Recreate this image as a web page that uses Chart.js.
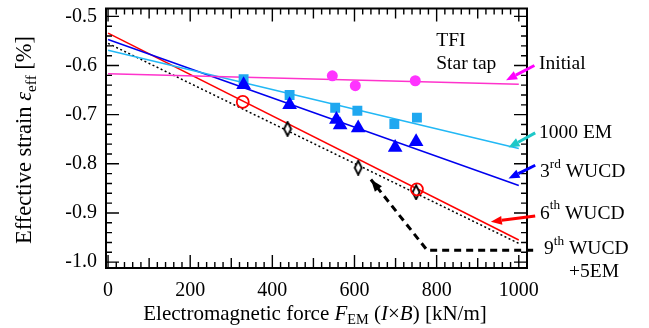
<!DOCTYPE html>
<html>
<head>
<meta charset="utf-8">
<script src="https://cdn.jsdelivr.net/npm/chart.js@4.4.0/dist/chart.umd.min.js"></script>
<style>
  html, body { margin: 0; padding: 0; background: #fff; }
  #wrap { width: 649px; height: 328px; }
</style>
</head>
<body>
<div id="wrap"><canvas id="chart" width="649" height="328"></canvas></div>
<script>
// values (force in kN/m, strain in %)
const forceInitial = [546, 602, 748];
const strainInitial = [-0.621, -0.641, -0.631];

const force1000EM = [330, 442, 553, 607, 697, 752];
const strain1000EM = [-0.628, -0.660, -0.686, -0.692, -0.719, -0.706];

const force3rd = [330, 442, 556, 565, 609, 699, 750];
const strain3rd = [-0.639, -0.680, -0.710, -0.721, -0.727, -0.767, -0.755];

const force6th = [328, 752];
const strain6th = [-0.674, -0.852];

const force9th = [437, 609, 750];
const strain9th = [-0.729, -0.808, -0.858];

// linear fits, drawn from 0 to 1000
const fitX = [0, 1000];
const fitInitial = [-0.617, -0.638];
const fit1000EM = [-0.569, -0.769];
const fit3rd = [-0.547, -0.844];
const fit6th = [-0.534, -0.955];
const fit9th = [-0.555, -0.962];

// dashed path to the 9th WUCD level
const dropX = [1035, 777, 640];
const dropY = [-0.976, -0.976, -0.832];

const xTicks = [0, 200, 400, 600, 800, 1000];
const yTicks = [-1.0, -0.9, -0.8, -0.7, -0.6, -0.5];

const FONT = '"Liberation Serif", "Times New Roman", serif';
Chart.defaults.font.family = FONT;
Chart.defaults.color = '#000';

function pts(xs, ys) {
    return xs.map((x, i) => ({ x: x, y: ys[i] }));
}

// narrow open diamond marker
function diamondMarker() {
    const c = document.createElement('canvas');
    c.width = 10; c.height = 16;
    const g = c.getContext('2d');
    g.beginPath();
    g.moveTo(5, 1); g.lineTo(8.5, 8); g.lineTo(5, 15); g.lineTo(1.5, 8); g.closePath();
    g.fillStyle = '#fff'; g.fill();
    g.lineWidth = 1.8; g.strokeStyle = '#000'; g.stroke();
    return c;
}

function richText(ctx, parts, x, y, size, align) {
    let w = 0;
    const items = parts.map(function(p) {
        const st = p[1] || '';
        const small = st.indexOf('sub') >= 0 || st.indexOf('sup') >= 0;
        const fs = small ? size * 0.68 : size;
        const font = (st.indexOf('i') === 0 ? 'italic ' : '') + fs + 'px ' + FONT;
        ctx.font = font;
        const mw = ctx.measureText(p[0]).width;
        w += mw;
        return { t: p[0], st: st, font: font, mw: mw };
    });
    let cx = align === 'center' ? x - w / 2 : x;
    items.forEach(function(it) {
        ctx.font = it.font;
        let dy = 0;
        if (it.st.indexOf('sub') >= 0) dy = size * 0.3;
        if (it.st.indexOf('sup') >= 0) dy = -size * 0.4;
        ctx.fillText(it.t, cx, y + dy);
        cx += it.mw;
    });
}

function arrow(ctx, x1, y1, x2, y2, color, lw, headLen, headW) {
    const a = Math.atan2(y2 - y1, x2 - x1);
    const bx = x2 - Math.cos(a) * headLen, by = y2 - Math.sin(a) * headLen;
    ctx.save();
    ctx.strokeStyle = color; ctx.fillStyle = color; ctx.lineWidth = lw;
    if (lw > 0) { ctx.beginPath(); ctx.moveTo(x1, y1); ctx.lineTo(bx, by); ctx.stroke(); }
    ctx.beginPath();
    ctx.moveTo(x2, y2);
    ctx.lineTo(bx + Math.sin(a) * headW / 2, by - Math.cos(a) * headW / 2);
    ctx.lineTo(bx - Math.sin(a) * headW / 2, by + Math.cos(a) * headW / 2);
    ctx.closePath(); ctx.fill();
    ctx.restore();
}

const decor = {
    id: 'decor',
    afterDraw(chart) {
        const ctx = chart.ctx, a = chart.chartArea;
        const xs = chart.scales.x, ys = chart.scales.y;
        ctx.save();
        // frame
        ctx.strokeStyle = '#000'; ctx.lineWidth = 2;
        ctx.strokeRect(a.left, a.top, a.right - a.left, a.bottom - a.top);
        // inward ticks on all sides
        ctx.lineWidth = 1.4;
        ctx.beginPath();
        for (let v = 0; v <= 1000; v += 20) {
            const px = xs.getPixelForValue(v);
            const len = v % 200 === 0 ? 13 : (v % 100 === 0 ? 10 : 6);
            ctx.moveTo(px, a.bottom); ctx.lineTo(px, a.bottom - len);
            ctx.moveTo(px, a.top); ctx.lineTo(px, a.top + len);
        }
        for (let k = 0; k <= 25; k++) {
            const v = -1.0 + k * 0.02;
            const py = ys.getPixelForValue(v);
            const len = k % 5 === 0 ? 13 : 6;
            ctx.moveTo(a.left, py); ctx.lineTo(a.left + len, py);
            ctx.moveTo(a.right, py); ctx.lineTo(a.right - len, py);
        }
        ctx.stroke();

        // arrowhead on the dashed path
        const n = dropX.length;
        arrow(ctx, xs.getPixelForValue(dropX[n - 2]), ys.getPixelForValue(dropY[n - 2]),
            xs.getPixelForValue(dropX[n - 1]), ys.getPixelForValue(dropY[n - 1]), '#000', 0, 12, 9);

        // label arrows at the right
        const X = v => xs.getPixelForValue(v), Y = v => ys.getPixelForValue(v);
        arrow(ctx, X(1038), Y(-0.600), X(969), Y(-0.630), '#f0f', 3, 11, 9);
        arrow(ctx, X(1040), Y(-0.737), X(975), Y(-0.767), '#1ec8c8', 3, 11, 9);
        arrow(ctx, X(1040), Y(-0.803), X(975), Y(-0.830), '#00f', 3, 11, 9);
        arrow(ctx, X(1040), Y(-0.906), X(932), Y(-0.918), '#f00', 3, 11, 9);

        // texts
        ctx.fillStyle = '#000';
        ctx.textBaseline = 'middle';
        ctx.textAlign = 'left';
        richText(ctx, [['TFI']], X(799), Y(-0.549), 19.5, 'left');
        richText(ctx, [['Star tap']], X(799), Y(-0.597), 19.5, 'left');
        richText(ctx, [['Initial']], 539, Y(-0.596), 19.5, 'left');
        richText(ctx, [['1000 EM']], 539, Y(-0.738), 19.5, 'left');
        richText(ctx, [['3'], ['rd', 'sup'], [' WUCD']], 540, Y(-0.817), 19.5, 'left');
        richText(ctx, [['6'], ['th', 'sup'], [' WUCD']], 540, Y(-0.901), 19.5, 'left');
        richText(ctx, [['9'], ['th', 'sup'], [' WUCD']], 544, Y(-0.974), 19.5, 'left');
        richText(ctx, [['+5EM']], 569, Y(-1.020), 19.5, 'left');

        // axis titles
        richText(ctx, [['Electromagnetic force '], ['F', 'i'], ['EM', 'sub'], [' ('], ['I', 'i'], ['×'], ['B', 'i'], [') [kN/m]']],
            315, 314, 21, 'center');
        ctx.translate(25, 140);
        ctx.rotate(-Math.PI / 2);
        richText(ctx, [['Effective strain '], ['ε', 'i'], ['eff', 'sub'], [' [%]']], 0, 0, 22.5, 'center');
        ctx.restore();
    }
};

const ctx = document.getElementById('chart').getContext('2d');
new Chart(ctx, {
    type: 'scatter',
    data: {
        datasets: [
            { data: pts(forceInitial, strainInitial), pointStyle: 'circle', pointRadius: 5.5,
              backgroundColor: '#f3f', borderColor: '#f3f', borderWidth: 0 },
            { data: pts(force3rd, strain3rd), pointStyle: 'triangle', pointRadius: 8.5,
              backgroundColor: '#00f', borderColor: '#00f', borderWidth: 0 },
            { data: pts(force1000EM, strain1000EM), pointStyle: 'rect', pointRadius: 7,
              backgroundColor: '#1fa8f0', borderColor: '#1fa8f0', borderWidth: 0 },
            { data: pts(force6th, strain6th), pointStyle: 'circle', pointRadius: 6,
              backgroundColor: 'rgba(255,255,255,0)', borderColor: '#f00', borderWidth: 1.8 },
            { data: pts(force9th, strain9th), pointStyle: diamondMarker() },
            { type: 'line', data: pts(fitX, fitInitial), borderColor: '#f3c', borderWidth: 1.5, pointRadius: 0 },
            { type: 'line', data: pts(fitX, fit1000EM), borderColor: '#22b8f5', borderWidth: 1.5, pointRadius: 0 },
            { type: 'line', data: pts(fitX, fit3rd), borderColor: '#0000ee', borderWidth: 1.5, pointRadius: 0 },
            { type: 'line', data: pts(fitX, fit6th), borderColor: '#f00', borderWidth: 1.5, pointRadius: 0 },
            { type: 'line', data: pts(fitX, fit9th), borderColor: '#000', borderWidth: 1.5,
              borderDash: [2, 2.5], pointRadius: 0 },
            { type: 'line', data: pts(dropX, dropY), borderColor: '#000', borderWidth: 3,
              borderDash: [7, 5], pointRadius: 0, clip: false }
        ]
    },
    options: {
        responsive: false,
        animation: false,
        devicePixelRatio: 1,
        layout: { padding: { left: 0, right: 122, top: 7, bottom: 0 } },
        plugins: { legend: { display: false }, tooltip: { enabled: false } },
        scales: {
            x: {
                type: 'linear', min: -5, max: 1020,
                grid: { display: false, drawTicks: false },
                border: { display: false },
                afterBuildTicks: s => { s.ticks = xTicks.map(v => ({ value: v })); },
                afterFit: s => { s.height = 60; s.paddingLeft = 0; s.paddingRight = 0; },
                ticks: { padding: 11, font: { size: 20 }, maxRotation: 0, callback: v => String(v) }
            },
            y: {
                type: 'linear', min: -1.012, max: -0.484,
                grid: { display: false, drawTicks: false },
                border: { display: false },
                afterBuildTicks: s => { s.ticks = yTicks.map(v => ({ value: v })); },
                afterFit: s => { s.width = 106; s.paddingTop = 0; s.paddingBottom = 0; },
                ticks: { padding: 9, font: { size: 20 }, callback: v => v.toFixed(1) }
            }
        }
    },
    plugins: [decor]
});
</script>
</body>
</html>
